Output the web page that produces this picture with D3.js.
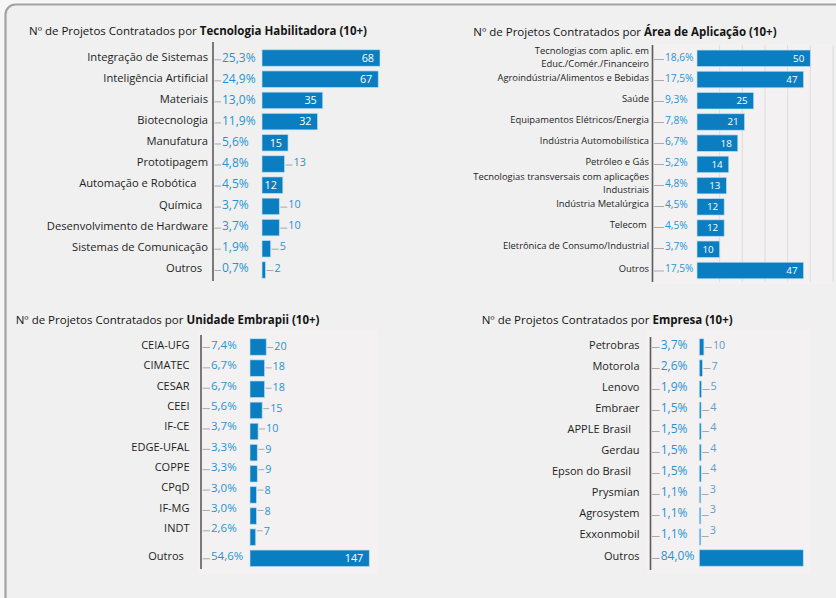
<!DOCTYPE html>
<html><head><meta charset="utf-8">
<script src="https://cdn.jsdelivr.net/npm/d3@7"></script>
<style>
html,body{margin:0;padding:0;background:#f6f6f6;}
svg{display:block;font-family:"Open Sans",sans-serif;}
</style></head><body>
<svg id="chart" width="836" height="598"></svg>
<script>
// ---------- DATA ----------
const titlePrefix = "Nº de Projetos Contratados por ";
const titles = ["Tecnologia Habilitadora (10+)", "Área de Aplicação (10+)", "Unidade Embrapii (10+)", "Empresa (10+)"];

const techCategories = ["Integração de Sistemas","Inteligência Artificial","Materiais","Biotecnologia","Manufatura","Prototipagem","Automação e Robótica    ","Química  ","Desenvolvimento de Hardware","Sistemas de Comunicação","Outros  "];
const techValues = [68,67,35,32,15,13,12,10,10,5,2];
const techPercents = [25.3,24.9,13.0,11.9,5.6,4.8,4.5,3.7,3.7,1.9,0.7];

const areaCategories = ["Tecnologias com aplic. em\nEduc./Comér./Financeiro","Agroindústria/Alimentos e Bebidas","Saúde","Equipamentos Elétricos/Energia","Indústria Automobilística","Petróleo e Gás","Tecnologias transversais com aplicações\nIndustriais","Indústria Metalúrgica","Telecom ","Eletrônica de Consumo/Industrial","Outros"];
const areaValues = [50,47,25,21,18,14,13,12,12,10,47];
const areaPercents = [18.6,17.5,9.3,7.8,6.7,5.2,4.8,4.5,4.5,3.7,17.5];

const unitCategories = ["CEIA-UFG","CIMATEC","CESAR","CEEI","IF-CE","EDGE-UFAL","COPPE","CPqD","IF-MG","INDT","Outros  "];
const unitValues = [20,18,18,15,10,9,9,8,8,7,147];
const unitPercents = [7.4,6.7,6.7,5.6,3.7,3.3,3.3,3.0,3.0,2.6,54.6];

const companyCategories = ["Petrobras","Motorola","Lenovo","Embraer","APPLE Brasil   ","Gerdau","Epson do Brasil   ","Prysmian","Agrosystem","Exxonmobil","Outros"];
const companyValues = [10,7,5,4,4,4,4,3,3,3,226];
const companyPercents = [3.7,2.6,1.9,1.5,1.5,1.5,1.5,1.1,1.1,1.1,84.0];

// ---------- STYLE / LAYOUT ----------
const BAR = "#0b7ec1";
const PCT = "#1f94d6";
const locale = d3.formatLocale({decimal: ",", thousands: ".", grouping: [3], currency: ["R$", ""]});
const fmtPct = v => locale.format(".1f")(v) + "%";

const panels = [
  {cats: techCategories, vals: techValues, pcts: techPercents, title: titles[0],
   titleX: 29, titleY: 30.5, titleSize: 11.5,
   axisX: 213, axisY: [42, 281], labelRight: 208, labelSize: 11.2,
   pctX: 222, pctSize: 12, xRange: [262, 380], xMax: 68,
   barY: [58, 270], barH: 16.5, labelY: [57.3, 246.7], valueY: [57.5, 246.7],
   valSize: 10.8, valGap: 9, valColor: "#2a92d2",
   inside: (c, v) => v >= 12 && c !== "Prototipagem", hideLast: false},
  {cats: areaCategories, vals: areaValues, pcts: areaPercents, title: titles[1],
   titleX: 473.3, titleY: 31.5, titleSize: 11.5,
   axisX: 652.5, axisY: [45, 282], labelRight: 649, labelSize: 9.4,
   pctX: 665, pctSize: 10.2, xRange: [697, 833], xMax: 60,
   barY: [58.3, 270.5], barH: 16.5, labelY: [57, 246], valueY: [57, 246],
   valSize: 9.8, valGap: 9, valColor: "#2a92d2",
   inside: () => true, grid: true, bg: [652, 44, 181, 240], hideLast: false},
  {cats: unitCategories, vals: unitValues, pcts: unitPercents, title: titles[2],
   titleX: 15.7, titleY: 320, titleSize: 11.5,
   axisX: 201, axisY: [335, 569], labelRight: 189.5, labelSize: 11,
   pctX: 211, pctSize: 11.5, xRange: [250, 369.3], xMax: 147,
   barY: [347, 558.3], barH: 16.5, labelY: [345, 528.3], valueY: [346, 531.5],
   valSize: 10.8, valGap: 8, valColor: "#2a92d2",
   inside: (c, v) => v > 100, bg: [197, 330, 180, 244], hideLast: false},
  {cats: companyCategories, vals: companyValues, pcts: companyPercents, title: titles[3],
   titleX: 481.7, titleY: 319.5, titleSize: 11.5,
   axisX: 650.5, axisY: [337, 570], labelRight: 639.5, labelSize: 11,
   pctX: 660.7, pctSize: 12, xRange: [699.3, 803.3], xMax: 226,
   barY: [347, 558], barH: 16.5, labelY: [345, 534], valueY: [345.7, 530],
   valSize: 10.8, valGap: 9, valColor: "#5e9bcf",
   inside: (c, v) => v > 100, bg: [647, 330, 163, 243], hideLast: true}
];

const svg = d3.select("#chart");

// card
svg.append("rect").attr("x", 5.5).attr("y", 4.5).attr("width", 900).attr("height", 700)
  .attr("rx", 10).attr("fill", "#f0f0f0").attr("stroke", "#a2a2a2").attr("stroke-width", 2.2);

panels.forEach(p => {
  const g = svg.append("g");
  const n = p.cats.length;
  const last = p.cats[n - 1];
  const x = d3.scaleLinear().domain([0, p.xMax]).range(p.xRange);
  const yBar = d3.scalePoint().domain(p.cats).range(p.barY);
  const yLab = d3.scalePoint().domain(p.cats.slice(0, -1)).range(p.labelY);
  const yVal = d3.scalePoint().domain(p.cats.slice(0, -1)).range(p.valueY);
  const labY = c => c === last ? yBar(c) - 2 : yLab(c);
  const valY = c => c === last ? labY(c) : yVal(c);
  const rows = p.cats.map((c, i) => ({c, v: p.vals[i], pct: p.pcts[i], i}));

  if (p.bg) {
    g.append("rect").attr("x", p.bg[0]).attr("y", p.bg[1]).attr("width", p.bg[2]).attr("height", p.bg[3])
      .attr("fill", "#f4f1f3");
  }
  if (p.grid) {
    g.selectAll(".grid").data(x.ticks(6).filter(t => t > 0)).join("line")
      .attr("x1", d => x(d)).attr("x2", d => x(d))
      .attr("y1", p.axisY[0]).attr("y2", p.axisY[1])
      .attr("stroke", "#dedbdd").attr("stroke-width", 1);
  }

  // title
  const t = g.append("text").attr("x", p.titleX).attr("y", p.titleY).attr("dy", "0.35em")
    .attr("font-size", p.titleSize).attr("fill", "#151515");
  t.append("tspan").text(titlePrefix);
  t.append("tspan").attr("font-weight", "bold").text(p.title);

  // axis line
  g.append("line").attr("x1", p.axisX).attr("x2", p.axisX).attr("y1", p.axisY[0]).attr("y2", p.axisY[1])
    .attr("stroke", "#5c5c5c").attr("stroke-width", 1.6);

  // small ticks between axis and percent
  g.selectAll(".tick").data(rows).join("line")
    .attr("x1", p.axisX + 1.5).attr("x2", p.pctX - 1)
    .attr("y1", d => labY(d.c) + 2.5).attr("y2", d => labY(d.c) + 2.5)
    .attr("stroke", "#a9a9a9").attr("stroke-width", 1);

  // category labels (multi-line labels as separate text lines)
  rows.forEach(d => {
    const lines = d.c.split("\n");
    const lh = p.labelSize * 1.38;
    const y0 = labY(d.c) - (lines.length - 1) * lh / 2;
    lines.forEach((ln, k) => {
      g.append("text").attr("x", p.labelRight).attr("y", y0 + k * lh).attr("dy", "0.35em")
        .attr("text-anchor", "end").attr("font-size", p.labelSize).attr("fill", "#1e1e1e")
        .style("white-space", "pre").text(ln);
    });
  });

  // percents
  g.selectAll(".pct").data(rows).join("text")
    .attr("x", p.pctX).attr("y", d => labY(d.c)).attr("dy", "0.35em")
    .attr("font-size", p.pctSize).attr("fill", PCT).text(d => fmtPct(d.pct));

  // bars
  g.selectAll(".bar").data(rows).join("rect")
    .attr("x", x(0)).attr("y", d => yBar(d.c) - p.barH / 2)
    .attr("width", d => Math.max(1.5, x(d.v) - x(0))).attr("height", p.barH)
    .attr("fill", BAR).attr("stroke", "#bfe2f5").attr("stroke-width", 0.8).attr("stroke-opacity", 0.8);

  // value labels
  rows.forEach(d => {
    if (p.hideLast && d.c === last) return;
    if (p.inside(d.c, d.v)) {
      g.append("text").attr("x", x(d.v) - 6).attr("y", yBar(d.c)).attr("dy", "0.35em")
        .attr("text-anchor", "end").attr("font-size", p.valSize).attr("fill", "#ffffff").text(d.v);
    } else {
      g.append("line").attr("x1", x(d.v) + 1).attr("x2", x(d.v) + p.valGap - 1)
        .attr("y1", labY(d.c) + 2.5).attr("y2", labY(d.c) + 2.5)
        .attr("stroke", "#a9a9a9").attr("stroke-width", 1);
      g.append("text").attr("x", x(d.v) + p.valGap).attr("y", valY(d.c)).attr("dy", "0.35em")
        .attr("font-size", p.valSize).attr("fill", p.valColor).text(d.v);
    }
  });
});
</script>
</body></html>
